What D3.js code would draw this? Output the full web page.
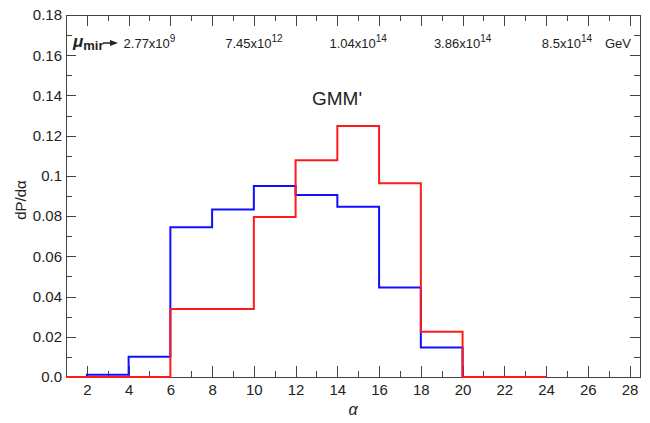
<!DOCTYPE html>
<head>
<meta charset="utf-8">
<script src="https://d3js.org/d3.v7.min.js"></script>
<style>
  body { margin: 0; background: #fff; }
  svg text { font-family: "Liberation Sans", Arial, sans-serif; fill: #222; }
  .axis path, .axis line { stroke: #444; shape-rendering: crispEdges; }
</style>
</head>
<body>
<div id="chart"></div>
<script>
// bin edges in alpha, one value per bin (edge i -> edge i+1)
var alphaEdges = [1, 2, 4, 6, 8, 10, 12, 14, 16, 18, 20, 24];
var blueVals = [0, 0.0011, 0.0101, 0.0744, 0.0833, 0.0950, 0.0905, 0.0847, 0.0445, 0.0147, 0];
var redVals  = [0, 0, 0, 0.0338, 0.0338, 0.0795, 0.1078, 0.1248, 0.0964, 0.0225, 0];

// mu_mir scale labels along the top
var mirAlpha = [5, 10, 15, 20, 25];
var mirMant  = ["2.77", "7.45", "1.04", "3.86", "8.5"];
var mirExp   = ["9", "12", "14", "14", "14"];

var W = 650, H = 423;
var margin = {top: 15, right: 10, bottom: 46, left: 66};
var width = W - margin.left - margin.right,
    height = H - margin.top - margin.bottom;

var svg = d3.select("#chart").append("svg")
    .attr("width", W).attr("height", H)
  .append("g")
    .attr("transform", "translate(" + margin.left + "," + margin.top + ")");

var x = d3.scaleLinear().domain([1, 28.5]).range([0, width]);
var y = d3.scaleLinear().domain([0, 0.18]).range([height, 0]);

var xMajor = d3.range(2, 29, 2), xMinor = d3.range(1, 29, 2);
var yMajor = d3.range(0, 0.181, 0.02), yMinor = d3.range(0.01, 0.18, 0.02);
var yFmt = function(d) { return d === 0 ? "0.0" : String(+d.toFixed(2)); };

// bottom axis
svg.append("g").attr("class", "axis").attr("transform", "translate(0," + height + ")")
  .call(d3.axisBottom(x).tickValues(xMajor).tickSize(-11).tickPadding(7).tickSizeOuter(0))
  .call(function(g) { g.selectAll("text").style("font-size", "15px"); });
svg.append("g").attr("class", "axis").attr("transform", "translate(0," + height + ")")
  .call(d3.axisBottom(x).tickValues(xMinor).tickSize(-6).tickFormat("").tickSizeOuter(0))
  .select(".domain").remove();

// top axis
svg.append("g").attr("class", "axis")
  .call(d3.axisTop(x).tickValues(xMajor).tickSize(-11).tickFormat("").tickSizeOuter(0));
svg.append("g").attr("class", "axis")
  .call(d3.axisTop(x).tickValues(xMinor).tickSize(-6).tickFormat("").tickSizeOuter(0))
  .select(".domain").remove();

// left axis
svg.append("g").attr("class", "axis")
  .call(d3.axisLeft(y).tickValues(yMajor).tickSize(-10).tickPadding(4).tickFormat(yFmt).tickSizeOuter(0))
  .call(function(g) { g.selectAll("text").style("font-size", "15px").attr("x", -4); });
svg.append("g").attr("class", "axis")
  .call(d3.axisLeft(y).tickValues(yMinor).tickSize(-6).tickFormat("").tickSizeOuter(0))
  .select(".domain").remove();

// right axis
svg.append("g").attr("class", "axis").attr("transform", "translate(" + width + ",0)")
  .call(d3.axisRight(y).tickValues(yMajor).tickSize(-10).tickFormat("").tickSizeOuter(0));
svg.append("g").attr("class", "axis").attr("transform", "translate(" + width + ",0)")
  .call(d3.axisRight(y).tickValues(yMinor).tickSize(-6).tickFormat("").tickSizeOuter(0))
  .select(".domain").remove();

// histograms
function stepPts(vals) {
  var pts = vals.map(function(v, i) { return [alphaEdges[i], v]; });
  pts.push([alphaEdges[alphaEdges.length - 1], 0]);
  return pts;
}
var line = d3.line()
  .x(function(d) { return x(d[0]); })
  .y(function(d) { return y(d[1]); })
  .curve(d3.curveStepAfter);

svg.append("path").datum(stepPts(blueVals))
  .attr("d", line).attr("fill", "none").attr("stroke", "#1010ff").attr("stroke-width", 2);
svg.append("path").datum(stepPts(redVals))
  .attr("d", line).attr("fill", "none").attr("stroke", "#ff1a1a").attr("stroke-width", 2);

// mu_mir label
var mu = svg.append("text").attr("x", 7).attr("y", 32).style("font-weight", "bold");
mu.append("tspan").text("μ").style("font-style", "italic").style("font-size", "17px");
mu.append("tspan").text("mir").style("font-size", "13px").attr("dy", 3);
svg.append("line").attr("x1", 37).attr("x2", 47).attr("y1", 28).attr("y2", 28)
  .attr("stroke", "#222").attr("stroke-width", 1.5);
svg.append("path").attr("d", "M52,28 L44,25 L44,31 Z").attr("fill", "#222");

mirAlpha.forEach(function(a, i) {
  var t = svg.append("text").attr("x", x(a)).attr("y", 33)
    .attr("text-anchor", "middle").style("font-size", "13px");
  t.append("tspan").text(mirMant[i] + "x10");
  t.append("tspan").text(mirExp[i]).attr("dy", -6).style("font-size", "10px");
});
svg.append("text").attr("x", 539).attr("y", 33).style("font-size", "13px").text("GeV");

// title
svg.append("text").attr("x", 271).attr("y", 90).attr("text-anchor", "middle")
  .style("font-size", "19px").text("GMM'");

// axis titles
svg.append("text").attr("x", width / 2).attr("y", height + 38)
  .attr("text-anchor", "middle").style("font-size", "16px").style("font-style", "italic").text("α");
svg.append("text").attr("transform", "translate(-40," + (height / 2 + 4) + ") rotate(-90)")
  .attr("text-anchor", "middle").style("font-size", "15px").text("dP/dα");
</script>
</body>
